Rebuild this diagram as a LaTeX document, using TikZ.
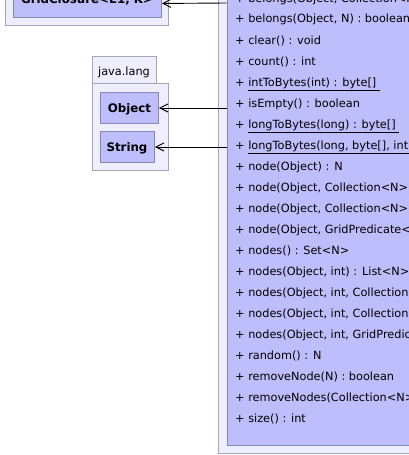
\documentclass[tikz,border=0pt]{standalone}
\usepackage{fontspec}
\setmainfont{DejaVu Sans}
\usetikzlibrary{arrows.meta}
\definecolor{pkgfill}{RGB}{238,238,252}
\definecolor{pkgdraw}{RGB}{165,165,185}
\definecolor{clsfill}{RGB}{190,190,252}
\definecolor{clsdraw}{RGB}{135,135,175}
\tikzset{
  pkg/.style={draw=pkgdraw, fill=pkgfill, line width=0.9pt},
  cls/.style={draw=clsdraw, fill=clsfill, line width=0.9pt, inner sep=0pt, anchor=north west},
  row/.style={anchor=base west, inner sep=0pt, font=\fontsize{11.3}{13}\selectfont},
  bold/.style={inner sep=0pt, font=\fontsize{11.8}{14}\selectfont\bfseries},
  dep/.style={draw=black, line width=0.9pt, -{Straight Barb[length=8pt,width=8pt,line width=0.9pt]}}
}
\begin{document}
\begin{tikzpicture}[x=1pt,y=-1pt]
\useasboundingbox (0,0) rectangle (409,455);
\fill[white] (0,0) rectangle (409,455);
\clip (0,0) rectangle (409,455);
% GridClosure package (top left, cut off)
\draw[pkg] (5,-60) rectangle (168,25);
\node[cls, minimum width=148pt, minimum height=57pt] (gc) at (13,-40) {};
\node[bold, anchor=base] (gct) at (87,4) {GridClosure<E1, K>};
% java.lang package
\draw[pkg] (92,56) rectangle (156,83);
\draw[pkg] (92,83) rectangle (168,170);
\node[row, anchor=base] (jl) at (124,75) {java.lang};
\node[cls, minimum width=58pt, minimum height=31pt] (obj) at (100,92) {};
\node[bold, anchor=base] (objt) at (129.5,112) {Object};
\node[cls, minimum width=54pt, minimum height=31pt] (str) at (100,131) {};
\node[bold, anchor=base] (strt) at (127,151) {String};
% main package and class
\draw[pkg] (218,-20) rectangle (430,453);
\node[cls, minimum width=200pt, minimum height=465pt] (main) at (226.7,-20) {};
\node[row] (rp) at (235,2) {+ belongs(Object, Collection<N>) : boolean};
\node[row] (r0) at (235,23) {+ belongs(Object, N) : boolean};
\node[row] (r1) at (235,44) {+ clear() : void};
\node[row] (r2) at (235,65) {+ count() : int};
\node[row] (r3) at (235,86) {+ \underline{intToBytes(int) : byte[]\ }};
\node[row] (r4) at (235,107) {+ isEmpty() : boolean};
\node[row] (r5) at (235,128) {+ \underline{longToBytes(long) : byte[]\ }};
\node[row] (r6) at (235,149) {+ \underline{longToBytes(long, byte[], int) : void}};
\node[row] (r7) at (235,170) {+ node(Object) : N};
\node[row] (r8) at (235,191) {+ node(Object, Collection<N>) : N};
\node[row] (r9) at (235,212) {+ node(Object, Collection<N>, int) : N};
\node[row] (r10) at (235,233) {+ node(Object, GridPredicate<N>) : N};
\node[row] (r11) at (235,254) {+ nodes() : Set<N>};
\node[row] (r12) at (235,275) {+ nodes(Object, int) : List<N>};
\node[row] (r13) at (235,296) {+ nodes(Object, int, Collection<N>) : List<N>};
\node[row] (r14) at (235,317) {+ nodes(Object, int, Collection<N>, int) : List<N>};
\node[row] (r15) at (235,338) {+ nodes(Object, int, GridPredicate<N>) : List<N>};
\node[row] (r16) at (235,359) {+ random() : N};
\node[row] (r17) at (235,380) {+ removeNode(N) : boolean};
\node[row] (r18) at (235,401) {+ removeNodes(Collection<N>) : boolean};
\node[row] (r19) at (235,422) {+ size() : int};
% dependencies
\draw[dep] (main.west |- 0,3) -- ([yshift=-14.5pt]gc.east);
\draw[dep] (main.west |- obj.east) -- (obj.east);
\draw[dep] (main.west |- str.east) -- (str.east);
\end{tikzpicture}
\end{document}
